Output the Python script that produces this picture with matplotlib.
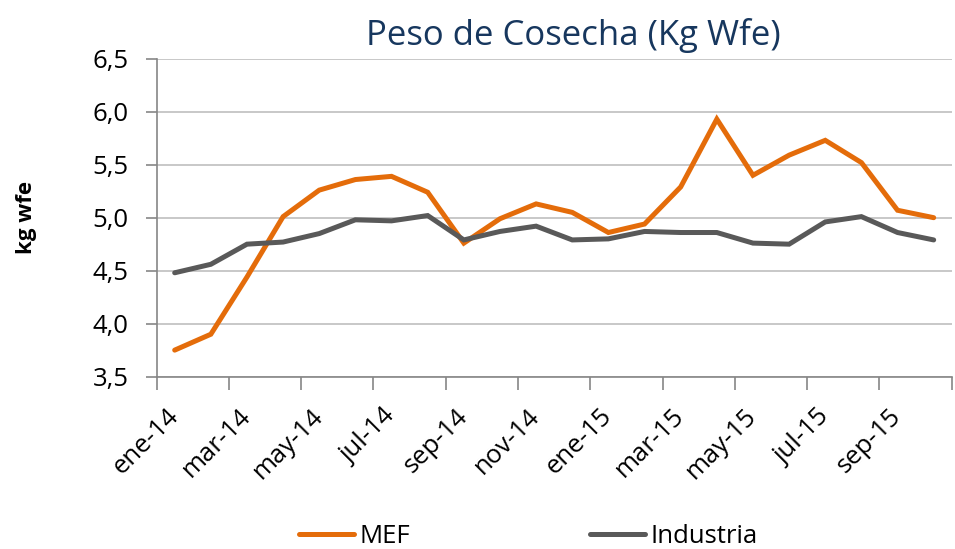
import matplotlib
matplotlib.use("Agg")
import matplotlib.pyplot as plt
import numpy as np

plt.rcParams['font.family'] = ['Open Sans', 'DejaVu Sans']

meses = ["ene-14", "feb-14", "mar-14", "abr-14", "may-14", "jun-14", "jul-14",
         "ago-14", "sep-14", "oct-14", "nov-14", "dic-14", "ene-15", "feb-15",
         "mar-15", "abr-15", "may-15", "jun-15", "jul-15", "ago-15", "sep-15",
         "oct-15"]
mef = [3.75, 3.90, 4.44, 5.01, 5.26, 5.36, 5.39, 5.24, 4.76, 4.99, 5.13,
       5.05, 4.86, 4.94, 5.29, 5.93, 5.40, 5.59, 5.73, 5.52, 5.07, 5.00]
industria = [4.48, 4.56, 4.75, 4.77, 4.85, 4.98, 4.97, 5.02, 4.79, 4.87, 4.92,
             4.79, 4.80, 4.87, 4.86, 4.86, 4.76, 4.75, 4.96, 5.01, 4.86, 4.79]
yticks = [3.5, 4.0, 4.5, 5.0, 5.5, 6.0, 6.5]

x = np.arange(len(meses))

fig = plt.figure(figsize=(9.55, 5.49), dpi=100)
ax = fig.add_axes([0.164, 0.314, 0.8326, 0.579])

ax.plot(x, mef, color="#E46C0A", lw=3.6, solid_capstyle="round",
        solid_joinstyle="miter", label="MEF", zorder=3)
ax.plot(x, industria, color="#595959", lw=3.6, solid_capstyle="round",
        solid_joinstyle="miter", label="Industria", zorder=3)

ax.set_xlim(-0.5, len(meses) - 0.5)
ax.set_ylim(3.5, 6.5)
ax.set_yticks(yticks)
ax.set_yticklabels([f"{v:.1f}".replace(".", ",") for v in yticks])
ax.yaxis.grid(True, color="#BFBFBF", lw=1.2)
ax.set_axisbelow(True)

# category labels every two months, tick marks between categories
ax.set_xticks(x[::2])
ax.set_xticklabels(meses[::2], rotation=45, ha="right", va="center",
                   rotation_mode="anchor")
ax.set_xticks(np.arange(-0.5, len(meses), 2), minor=True)
ax.tick_params(axis="x", which="major", length=0, pad=26, labelsize=18.5)
ax.tick_params(axis="x", which="minor", length=9, width=1.2, color="#868686",
               direction="out")
ax.tick_params(axis="y", length=8, width=1.2, color="#868686", labelsize=18.5,
               pad=12)

for s in ["top", "right"]:
    ax.spines[s].set_visible(False)
for s in ["left", "bottom"]:
    ax.spines[s].set_color("#868686")
    ax.spines[s].set_linewidth(1.2)

ax.set_ylabel("kg wfe", fontsize=16, fontweight="bold")
ax.yaxis.set_label_coords(-0.151, 0.5)
fig.text(0.600, 0.936, "Peso de Cosecha (Kg Wfe)", fontsize=25,
         color="#17375E", ha="center", va="center")

fig.legend(loc="center", bbox_to_anchor=(0.553, 0.022), ncol=2,
           frameon=False, fontsize=18.5, handlelength=2.15, handletextpad=0.2,
           columnspacing=7.0)

fig.savefig("out.png", dpi=100)
